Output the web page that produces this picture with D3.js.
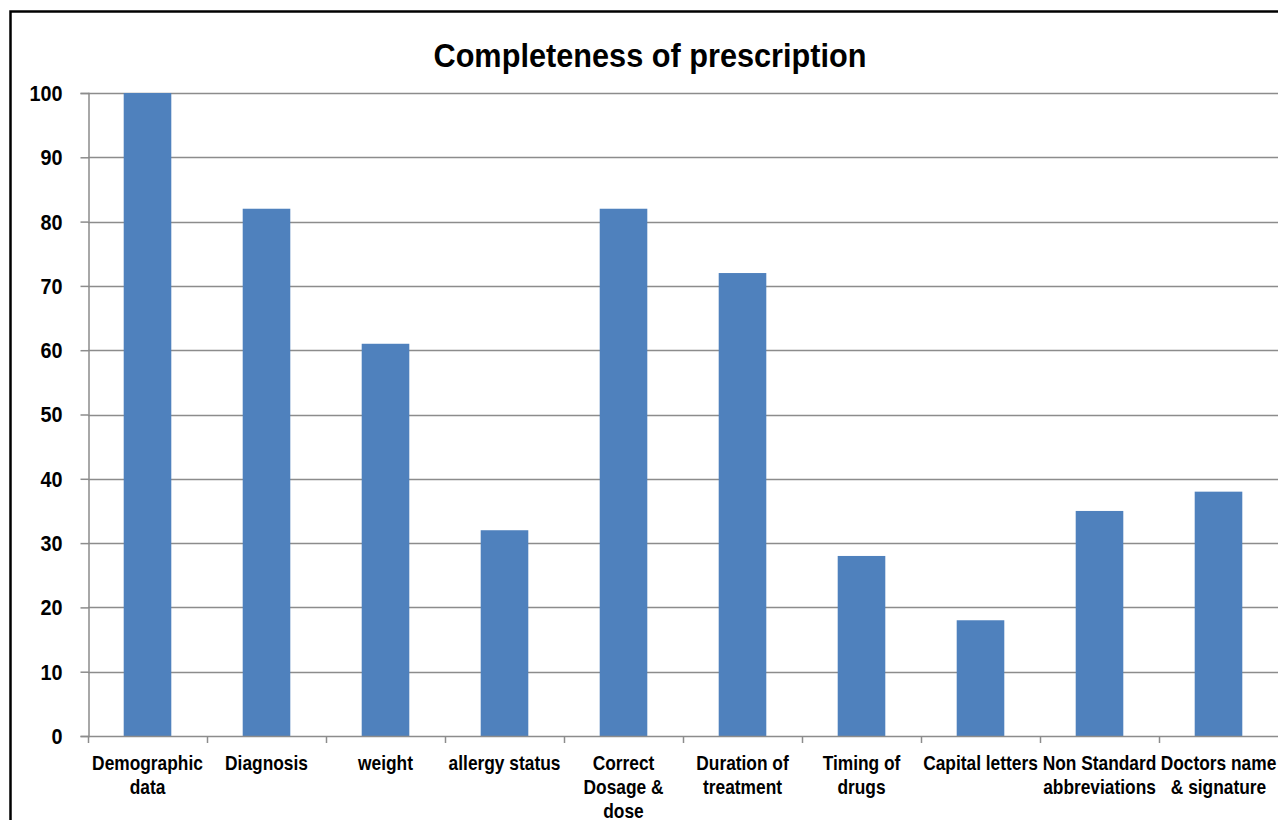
<!DOCTYPE html>
<html><head><meta charset="utf-8">
<script src="https://cdn.jsdelivr.net/npm/d3@7"></script>
<style>html,body{margin:0;padding:0;background:#fff;overflow:hidden}</style>
</head><body>
<script>
const categories = [
  ["Demographic","data"],
  ["Diagnosis"],
  ["weight"],
  ["allergy status"],
  ["Correct","Dosage &","dose"],
  ["Duration of","treatment"],
  ["Timing of","drugs"],
  ["Capital letters"],
  ["Non Standard","abbreviations"],
  ["Doctors name","& signature"]
];
const values = [100, 82, 61, 32, 82, 72, 28, 18, 35, 38];
const yTicks = [0,10,20,30,40,50,60,70,80,90,100];
const title = "Completeness of prescription";

const W = 1278, H = 820;
const svg = d3.select("body").append("svg").attr("width", W).attr("height", H);
svg.append("rect").attr("width", W).attr("height", H).attr("fill", "#fff");
svg.append("rect").attr("x", 10.5).attr("y", 11.5).attr("width", W + 20).attr("height", H + 20)
  .attr("fill", "none").attr("stroke", "#000").attr("stroke-width", 2.5);

const m = {left: 88, right: 0, top: 93, bottom: 736};
const x = d3.scaleBand().domain(d3.range(categories.length)).range([m.left, W - m.right]).paddingInner(0).paddingOuter(0);
const y = d3.scaleLinear().domain([0, 100]).range([m.bottom, m.top]);

const font = "'Liberation Sans', Arial, sans-serif";

// gridlines
svg.append("g").selectAll("line").data(yTicks.filter(d => d > 0)).join("line")
  .attr("x1", m.left).attr("x2", W).attr("y1", d => Math.round(y(d)) + 0.5).attr("y2", d => Math.round(y(d)) + 0.5)
  .attr("stroke", "#8c8c8c").attr("stroke-width", 1.5);

// bars
const bw = x.bandwidth() * 0.4;
svg.append("g").selectAll("rect").data(values).join("rect")
  .attr("x", (d, i) => x(i) + (x.bandwidth() - bw) / 2)
  .attr("width", bw)
  .attr("y", d => y(d))
  .attr("height", d => y(0) - y(d))
  .attr("fill", "#4F81BD");

// y axis
const yAxis = d3.axisLeft(y).tickValues(yTicks).tickSize(8).tickPadding(0);
const gy = svg.append("g").attr("transform", `translate(${m.left + 0.5},0)`).call(yAxis);
gy.select(".domain").attr("stroke", "#8c8c8c").attr("stroke-width", 1.5);
gy.selectAll(".tick line").attr("stroke", "#8c8c8c").attr("stroke-width", 1.5);
gy.selectAll(".tick text").attr("font-family", font).attr("font-weight", "bold")
  .attr("font-size", 22).attr("fill", "#000").attr("x", -29).attr("dy", "0.34em")
  .attr("transform", "scale(0.9,1)");

// x axis line
svg.append("line").attr("x1", m.left).attr("x2", W).attr("y1", m.bottom + 0.5).attr("y2", m.bottom + 0.5)
  .attr("stroke", "#8c8c8c").attr("stroke-width", 1.5);
// x ticks at band boundaries
svg.append("g").selectAll("line").data(d3.range(categories.length)).join("line")
  .attr("x1", i => x(i) + 0.5).attr("x2", i => x(i) + 0.5)
  .attr("y1", m.bottom).attr("y2", m.bottom + 7)
  .attr("stroke", "#8c8c8c").attr("stroke-width", 1.5);

// x labels
const lbl = svg.append("g").selectAll("text").data(categories).join("text")
  .attr("text-anchor", "middle").attr("font-family", font).attr("font-weight", "bold")
  .attr("font-size", 19.5).attr("fill", "#000")
  .attr("transform", (d, i) => `translate(${x(i) + x.bandwidth() / 2},770) scale(0.89,1)`);
lbl.selectAll("tspan").data(d => d).join("tspan")
  .attr("x", 0).attr("y", (d, j) => j * 24).text(d => d);

// title
svg.append("text").attr("transform", "translate(650,67) scale(0.93,1)").attr("text-anchor", "middle")
  .attr("font-family", font).attr("font-weight", "bold").attr("font-size", 33).attr("fill", "#000")
  .text(title);
</script>
</body></html>
